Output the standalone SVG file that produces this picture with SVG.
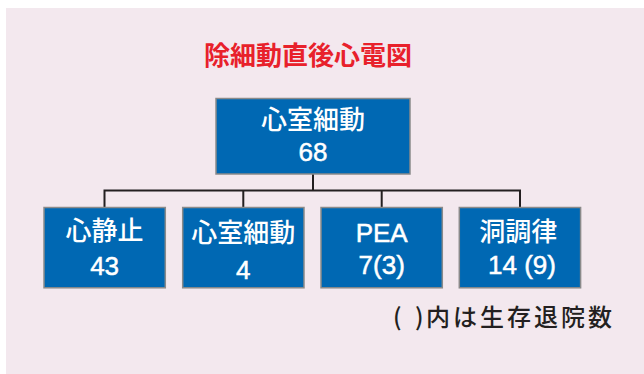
<svg xmlns="http://www.w3.org/2000/svg" width="644" height="374" viewBox="0 0 644 374">
<style>
.box{fill:#0068b3;stroke:#8a8a8a;stroke-width:1.5}
.lbl{font-family:"Noto Sans CJK JP","Liberation Sans",sans-serif;font-size:26px;font-weight:500;fill:#ffffff;text-anchor:middle}
.num{font-family:"Liberation Sans","Noto Sans CJK JP",sans-serif;font-size:26px;fill:#ffffff;stroke:#ffffff;stroke-width:0.5;text-anchor:middle}
.conn{fill:none;stroke:#231f20;stroke-width:2}
</style>
<rect x="6" y="8" width="638" height="366" fill="#f3e8ee"/>
<text x="308" y="65" font-family="Noto Sans CJK JP, sans-serif" font-size="26" font-weight="700" fill="#e8212b" text-anchor="middle">除細動直後心電図</text>
<g id="connectors">
<path class="conn" d="M313 174V190.5M104.5 207V190.5H520V207M243.3 190.5V207M381.7 190.5V207"/>
</g>
<g id="root">
<rect class="box" x="216" y="98.5" width="194" height="75.5"/>
<text class="lbl" x="313" y="129">心室細動</text>
<text class="num" x="313" y="160.5">68</text>
</g>
<g id="asystole">
<rect class="box" x="44" y="207.5" width="121.3" height="80.3"/>
<text class="lbl" x="104.6" y="240">心静止</text>
<text class="num" x="104.6" y="275">43</text>
</g>
<g id="vf">
<rect class="box" x="182.7" y="207.5" width="121.3" height="80.3"/>
<text class="lbl" x="243.3" y="242">心室細動</text>
<text class="num" x="243.3" y="279">4</text>
</g>
<g id="pea">
<rect class="box" x="321" y="207.5" width="121.3" height="80.3"/>
<text class="num" x="381.7" y="241.5">PEA</text>
<text class="num" x="381.7" y="273.5">7(3)</text>
</g>
<g id="sinus">
<rect class="box" x="459.3" y="207.5" width="121.3" height="80.3"/>
<text class="lbl" x="518.3" y="241">洞調律</text>
<text class="num" x="522" y="273.5">14 (9)</text>
</g>
<text y="326" font-family="Noto Sans CJK JP, sans-serif" font-size="24" font-weight="500" fill="#231f20"><tspan x="393">(</tspan><tspan x="403"> </tspan><tspan x="415">)</tspan><tspan x="426" letter-spacing="3">内は生存退院数</tspan></text>
</svg>
